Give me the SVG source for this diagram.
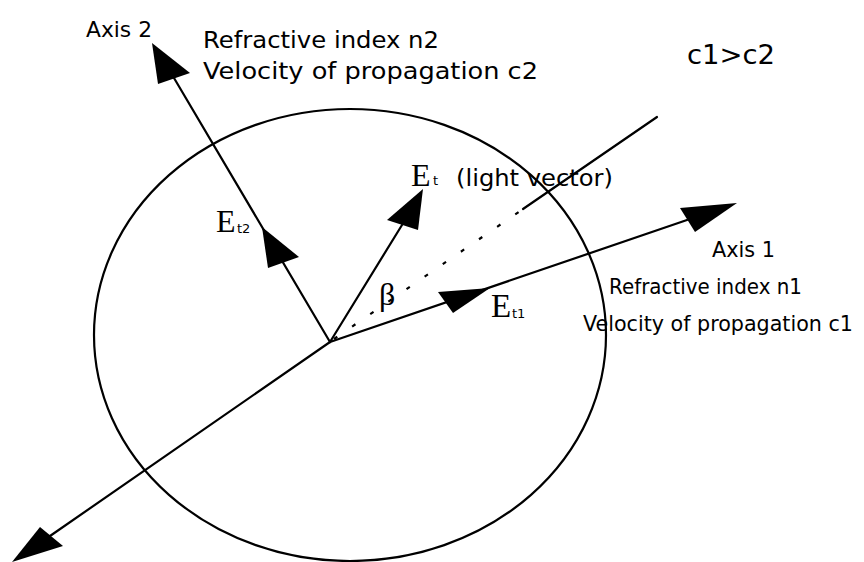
<svg xmlns="http://www.w3.org/2000/svg" width="864" height="562" viewBox="0 0 864 562">
<style>
.ln{stroke:#000;stroke-width:2.2;fill:none;stroke-linecap:round}
.dash{stroke:#000;stroke-width:2.2;fill:none;stroke-dasharray:4 18}
.ah{fill:#000;stroke:none}
.sans{font-family:"DejaVu Sans","Liberation Sans",sans-serif;fill:#000}
.ser{font-family:"Liberation Serif","DejaVu Serif",serif;fill:#000}
</style>
<rect width="864" height="562" fill="#fff"/>
<g id="circle">
<ellipse cx="350" cy="335" rx="256" ry="226" class="ln"/>
</g>
<g id="connectors">
<line class="ln" x1="330" y1="342" x2="174" y2="78"/>
<line class="ln" x1="330" y1="342" x2="687" y2="220"/>
<line class="ln" x1="330" y1="342" x2="50" y2="536"/>
<line class="ln" x1="330" y1="342" x2="402" y2="225"/>
<line class="dash" x1="334" y1="339" x2="523" y2="209"/>
<line class="ln" x1="523" y1="209" x2="657" y2="117"/>
</g>
<g id="axis2">
<polygon class="ah" points="152,43 158,84 190,73"/>
<text class="sans" x="86" y="37" font-size="22" textLength="66" lengthAdjust="spacingAndGlyphs">Axis 2</text>
<text class="sans" x="203" y="48" font-size="23" textLength="236" lengthAdjust="spacingAndGlyphs">Refractive index n2</text>
<text class="sans" x="203" y="79" font-size="23" textLength="335" lengthAdjust="spacingAndGlyphs">Velocity of propagation c2</text>
</g>
<g id="note">
<text class="sans" x="687" y="64" font-size="27" textLength="88" lengthAdjust="spacingAndGlyphs">c1&gt;c2</text>
</g>
<g id="axis1">
<polygon class="ah" points="737,203 680,208 695,232"/>
<text class="sans" x="712" y="257" font-size="22" textLength="63" lengthAdjust="spacingAndGlyphs">Axis 1</text>
<text class="sans" x="609" y="294" font-size="21" textLength="193" lengthAdjust="spacingAndGlyphs">Refractive index n1</text>
<text class="sans" x="583" y="331" font-size="21" textLength="270" lengthAdjust="spacingAndGlyphs">Velocity of propagation c1</text>
</g>
<g id="lower-axis">
<polygon class="ah" points="12,562 40,527 63,546"/>
</g>
<g id="Et">
<polygon class="ah" points="423,189 387,220 418,230"/>
<text class="ser" x="411" y="186" font-size="32">E</text>
<text class="sans" x="433" y="185" font-size="13">t</text>
<text class="sans" x="456" y="186" font-size="23" textLength="157" lengthAdjust="spacingAndGlyphs">(light vector)</text>
</g>
<g id="Et2">
<polygon class="ah" points="262,227 268,268 299,257"/>
<text class="ser" x="216" y="232" font-size="32">E</text>
<text class="sans" x="237" y="233" font-size="13">t2</text>
</g>
<g id="Et1">
<polygon class="ah" points="490,288 438,292 453,313"/>
<text class="ser" x="491" y="317" font-size="33">E</text>
<text class="sans" x="512" y="318" font-size="13">t1</text>
</g>
<g id="beta">
<text class="ser" x="379" y="305" font-size="32">β</text>
</g>
</svg>
